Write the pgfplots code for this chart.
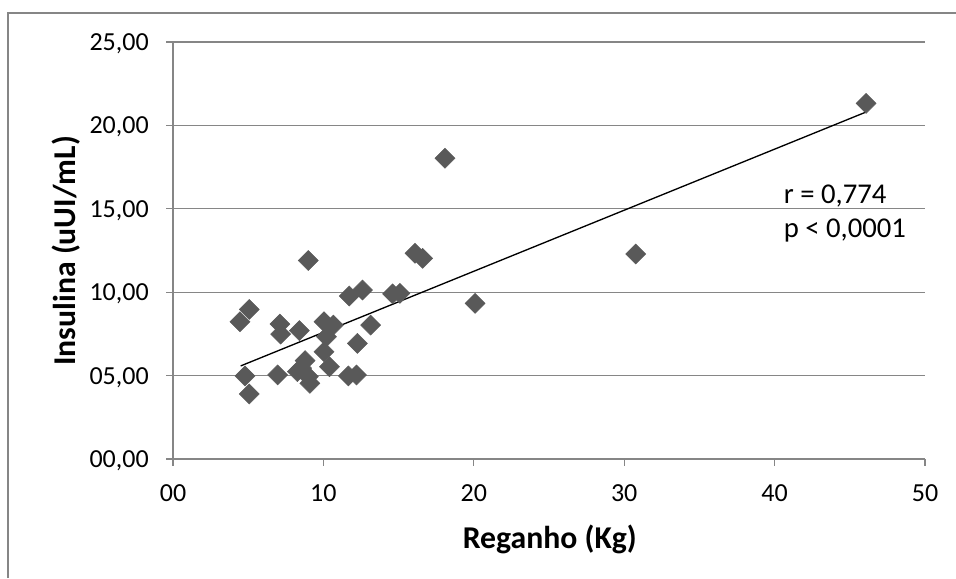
\documentclass[border=0pt]{standalone}
\usepackage{fontspec}
\setmainfont{Carlito}
\usepackage{pgfplots}
\pgfplotsset{compat=1.18}
\definecolor{markgray}{RGB}{89,89,89}
\definecolor{linegray}{RGB}{134,134,134}

\begin{document}
\begin{tikzpicture}
\path[use as bounding box] (0pt,0pt) rectangle (717pt,433.5pt);
\draw[linegray,line width=0.8pt] (6pt,0pt) -- (6pt,423.75pt) -- (717pt,423.75pt);
\begin{axis}[at={(129.75pt,89.25pt)},anchor=south west,
  scale only axis,width=564pt,height=312.75pt,
  xmin=0,xmax=50,ymin=0,ymax=25,
  axis lines=left,axis line style={linegray,line width=0.9pt,-},
  xtick={0,10,20,30,40,50},xticklabels={00,10,20,30,40,50},
  ytick={0,5,10,15,20,25},yticklabels={{00,00},{05,00},{10,00},{15,00},{20,00},{25,00}},
  tick align=outside,major tick length=5pt,tick style={linegray,line width=0.9pt},
  ymajorgrids,grid style={linegray,line width=0.9pt},
  tick label style={font=\fontsize{19.5pt}{23pt}\selectfont,inner sep=0pt,text depth=0pt},
  xticklabel style={anchor=north,yshift=-14pt},
  yticklabel style={anchor=east,xshift=-13pt},
  /pgf/number format/assume math mode=true,
  xlabel={\textbf{Reganho (Kg)}},ylabel={\textbf{Insulina (uUI/mL)}},
  label style={font=\fontsize{23.8pt}{27pt}\selectfont},
  xlabel style={at={(axis description cs:0.501,-0.194)},anchor=center},
  ylabel style={at={(axis description cs:-0.142,0.499)},anchor=center,rotate=0},
  clip=false]
\addplot[only marks,mark=square*,mark size=5.3pt,mark options={rotate=45,fill=markgray,draw=markgray}]
  coordinates {
  (4.45,8.23)(5.07,8.97)(4.79,4.98)(5.07,3.90)(6.96,5.04)(7.11,8.09)(7.16,7.49)
  (8.40,7.70)(8.27,5.24)(8.78,5.90)(8.55,5.45)(9.00,4.94)(9.10,4.54)(9.00,11.90)
  (10.04,8.23)(10.66,8.03)(10.20,7.33)(10.04,6.43)(10.40,5.53)(12.26,6.93)
  (13.14,8.03)(11.66,4.98)(12.20,5.04)(11.72,9.77)(12.60,10.13)(14.60,9.90)
  (15.09,9.93)(16.09,12.33)(16.60,12.03)(18.08,18.03)(20.08,9.33)(30.76,12.29)
  (46.08,21.32)};
\addplot[black,line width=1pt] coordinates {(4.5,5.58)(46.05,20.79)};
\node[anchor=base west,font=\fontsize{21.5pt}{25pt}\selectfont,inner sep=0pt] at (axis cs:40.6,15.29) {r = 0,774};
\node[anchor=base west,font=\fontsize{21.5pt}{25pt}\selectfont,inner sep=0pt] at (axis cs:40.6,13.25) {p < 0,0001};
\end{axis}
\end{tikzpicture}
\end{document}
